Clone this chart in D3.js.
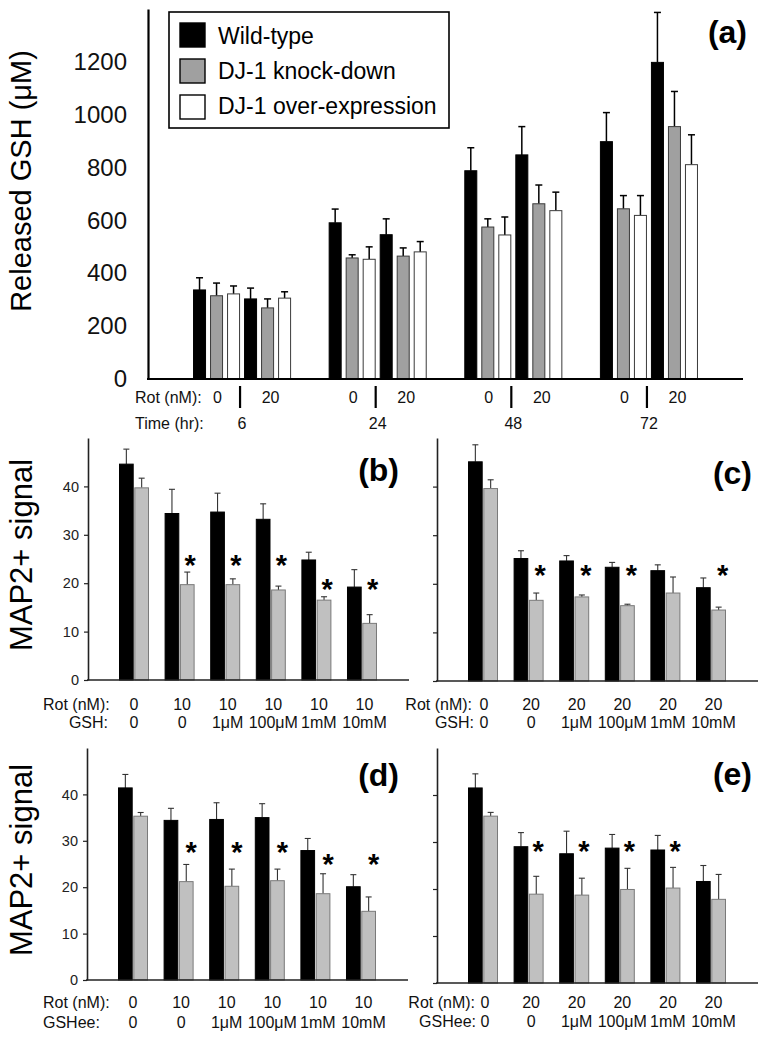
<!DOCTYPE html>
<html>
<head>
<meta charset="utf-8">
<script src="https://cdn.jsdelivr.net/npm/d3@7"></script>
<style>
  html, body { margin: 0; padding: 0; background: #fff; }
  svg { display: block; font-family: "Liberation Sans", Arial, Helvetica, sans-serif; }
</style>
</head>
<body>
<svg id="chart" width="767" height="1040"></svg>
<script>
// ---------------- DATA ----------------
// Panel (a): released GSH, order per series: [6h rot0, 6h rot20, 24h rot0, 24h rot20, 48h rot0, 48h rot20, 72h rot0, 72h rot20]
const timeLabels = ["6", "24", "48", "72"];
const rotLabelsA = ["0", "20"];
const seriesNamesA = ["Wild-type", "DJ-1 knock-down", "DJ-1 over-expression"];
const aWildType    = [337, 303, 591, 546, 788, 848, 898, 1198];
const aWildTypeErr = [46, 41, 52, 60, 87, 107, 110, 189];
const aKnockDown    = [315, 269, 458, 465, 575, 663, 644, 955];
const aKnockDownErr = [48, 34, 12, 31, 31, 71, 50, 133];
const aOverExpr    = [322, 306, 453, 481, 545, 637, 619, 811];
const aOverExprErr = [30, 24, 47, 39, 68, 70, 75, 113];
const aTicks = [0, 200, 400, 600, 800, 1000, 1200];

// Panels (b)-(e): MAP2+ signal
const mapTicks = [0, 10, 20, 30, 40];
const concLabels = ["0", "0", "1μM", "100μM", "1mM", "10mM"];
const rotB = ["0", "10", "10", "10", "10", "10"];
const rotC = ["0", "20", "20", "20", "20", "20"];

const bWT    = [44.6, 34.4, 34.7, 33.2, 24.8, 19.2];
const bWTErr = [3.1, 5.0, 3.9, 3.2, 1.6, 3.6];
const bKD    = [39.7, 19.7, 19.7, 18.6, 16.5, 11.7];
const bKDErr = [2.0, 2.6, 1.2, 0.8, 0.7, 1.8];
const bStars = [null, 25, 25, 25, 20, 20];

const cWT    = [45.1, 25.2, 24.7, 23.4, 22.7, 19.2];
const cWTErr = [3.5, 1.6, 1.1, 1.0, 1.2, 2.0];
const cKD    = [39.6, 16.6, 17.3, 15.5, 18.1, 14.6];
const cKDErr = [1.8, 1.5, 0.4, 0.3, 3.3, 0.6];
const cStars = [null, 23, 23, 23, null, 23];

const dWT    = [41.4, 34.4, 34.6, 35.0, 27.9, 20.1];
const dWTErr = [2.9, 2.6, 3.6, 3.0, 2.6, 2.6];
const dKD    = [35.3, 21.2, 20.2, 21.4, 18.6, 14.8];
const dKDErr = [0.8, 3.7, 3.7, 2.5, 4.3, 3.1];
const dStars = [null, 28.8, 28.8, 28.8, 26.2, 26.2];

const eWT    = [41.5, 29.0, 27.5, 28.7, 28.3, 21.6];
const eWTErr = [3.0, 3.0, 4.8, 2.9, 3.1, 3.4];
const eKD    = [35.5, 18.9, 18.7, 19.9, 20.2, 17.8];
const eKDErr = [0.8, 3.8, 3.6, 4.5, 4.4, 5.3];
const eStars = [null, 29.4, 29.4, 29.4, 29.4, null];

// ---------------- DRAW ----------------
const svg = d3.select("#chart");
const FONT = '"Liberation Sans", Arial, Helvetica, sans-serif';
const LABEL_SIZE = 16;

// ===== Panel (a) =====
(function () {
  const axisX = 148, endX = 743, y0 = 379, yTop = 9;
  const g = svg.append("g");
  const y = d3.scaleLinear().domain([0, 1400]).range([y0, yTop]);
  const xGroup = d3.scaleBand().domain(timeLabels).range([axisX, endX])
    .paddingInner(0.277).paddingOuter(0.332);
  const xBar = d3.scaleBand().domain(d3.range(6)).range([0, xGroup.bandwidth()])
    .paddingInner(0.235).paddingOuter(0);

  const series = [
    { vals: aWildType, errs: aWildTypeErr, fill: "#000", stroke: "#000" },
    { vals: aKnockDown, errs: aKnockDownErr, fill: "#a0a0a0", stroke: "#3a3a3a" },
    { vals: aOverExpr, errs: aOverExprErr, fill: "#fff", stroke: "#3a3a3a" }
  ];
  const bars = [];
  timeLabels.forEach((t, ti) => {
    rotLabelsA.forEach((r, ri) => {
      series.forEach((s, si) => {
        const idx = ti * 2 + ri;
        bars.push({ t, slot: ri * 3 + si, v: s.vals[idx], e: s.errs[idx], fill: s.fill, stroke: s.stroke });
      });
    });
  });

  // error bars
  const eb = g.append("g");
  bars.forEach(b => {
    const cx = xGroup(b.t) + xBar(b.slot) + xBar.bandwidth() / 2;
    eb.append("line").attr("x1", cx).attr("x2", cx)
      .attr("y1", y(b.v)).attr("y2", y(b.v + b.e)).attr("stroke", "#000").attr("stroke-width", 1.5);
    eb.append("line").attr("x1", cx - 3.5).attr("x2", cx + 3.5)
      .attr("y1", y(b.v + b.e)).attr("y2", y(b.v + b.e)).attr("stroke", "#000").attr("stroke-width", 1.5);
  });
  g.append("g").selectAll("rect").data(bars).join("rect")
    .attr("x", d => xGroup(d.t) + xBar(d.slot) + 0.5)
    .attr("width", xBar.bandwidth() - 1)
    .attr("y", d => y(d.v))
    .attr("height", d => y0 - y(d.v))
    .attr("fill", d => d.fill)
    .attr("stroke", d => d.stroke)
    .attr("stroke-width", 1);

  // y axis
  const ax = g.append("g").attr("transform", `translate(${axisX},0)`)
    .call(d3.axisLeft(y).tickValues(aTicks).tickFormat(d3.format("d"))
      .tickSize(0).tickSizeOuter(0).tickPadding(21));
  ax.select(".domain").attr("stroke", "#000").attr("stroke-width", 2.2);
  ax.selectAll("text").attr("font-size", 24).attr("font-family", FONT).attr("fill", "#111");
  // x baseline
  g.append("line").attr("x1", axisX - 1).attr("x2", endX).attr("y1", y0).attr("y2", y0)
    .attr("stroke", "#000").attr("stroke-width", 2.2);

  // x labels
  const lab = g.append("g").attr("font-size", LABEL_SIZE).attr("font-family", FONT).attr("fill", "#111");
  lab.append("text").attr("x", 135).attr("y", 403).text("Rot (nM):");
  lab.append("text").attr("x", 135).attr("y", 429).text("Time (hr):");
  timeLabels.forEach(t => {
    const gx = xGroup(t);
    const mid0 = gx + (xBar(0) + xBar(2) + xBar.bandwidth()) / 2;
    const mid1 = gx + (xBar(3) + xBar(5) + xBar.bandwidth()) / 2;
    const sep = gx + (xBar(2) + xBar.bandwidth() + xBar(3)) / 2;
    lab.append("text").attr("x", mid0 + 1).attr("y", 403).attr("text-anchor", "middle").text(rotLabelsA[0]);
    lab.append("text").attr("x", mid1 + 3).attr("y", 403).attr("text-anchor", "middle").text(rotLabelsA[1]);
    g.append("line").attr("x1", sep - 2).attr("x2", sep - 2).attr("y1", 386).attr("y2", 408)
      .attr("stroke", "#000").attr("stroke-width", 2.2);
    lab.append("text").attr("x", gx + xGroup.bandwidth() / 2).attr("y", 429)
      .attr("text-anchor", "middle").text(t);
  });

  // y label
  g.append("text").attr("transform", "translate(31,181) rotate(-90)")
    .attr("text-anchor", "middle").attr("font-size", 29).attr("font-family", FONT)
    .attr("fill", "#000").text("Released GSH (μM)");

  // legend
  const lg = g.append("g");
  lg.append("rect").attr("x", 169).attr("y", 12).attr("width", 280).attr("height", 116)
    .attr("fill", "#fff").attr("stroke", "#000").attr("stroke-width", 1.6);
  seriesNamesA.forEach((name, i) => {
    lg.append("rect").attr("x", 180).attr("y", 23 + i * 36).attr("width", 25).attr("height", 24)
      .attr("fill", series[i].fill).attr("stroke", "#000").attr("stroke-width", 1.4);
    lg.append("text").attr("x", 218).attr("y", 44 + i * 35).attr("font-size", 23)
      .attr("font-family", FONT).attr("fill", "#000").text(name);
  });

  g.append("text").attr("x", 747).attr("y", 43).attr("text-anchor", "end")
    .attr("font-size", 32).attr("font-weight", "bold").attr("font-family", FONT).text("(a)");
})();

// ===== Panels (b)-(e) =====
function mapPanel(cfg) {
  const g = svg.append("g");
  const y = d3.scaleLinear().domain([0, 50]).range([cfg.y0, cfg.yTop]);
  const x = d3.scaleBand().domain(d3.range(6)).range([cfg.axisX, cfg.axisX + 320])
    .paddingInner(0.342).paddingOuter(0.68);
  const xi = d3.scaleBand().domain(["wt", "kd"]).range([0, x.bandwidth()]).paddingInner(0.04);

  const bars = [];
  cfg.wt.forEach((v, i) => {
    bars.push({ i, k: "wt", v, e: cfg.wtErr[i], fill: "#000", stroke: "#000" });
    bars.push({ i, k: "kd", v: cfg.kd[i], e: cfg.kdErr[i], fill: "#c0c0c0", stroke: "#7a7a7a" });
  });
  bars.forEach(b => {
    const cx = x(b.i) + xi(b.k) + xi.bandwidth() / 2;
    g.append("line").attr("x1", cx).attr("x2", cx).attr("y1", y(b.v)).attr("y2", y(b.v + b.e))
      .attr("stroke", "#333").attr("stroke-width", 1.1);
    g.append("line").attr("x1", cx - 3).attr("x2", cx + 3).attr("y1", y(b.v + b.e)).attr("y2", y(b.v + b.e))
      .attr("stroke", "#333").attr("stroke-width", 1.1);
  });
  g.append("g").selectAll("rect").data(bars).join("rect")
    .attr("x", d => x(d.i) + xi(d.k) + 0.5)
    .attr("width", xi.bandwidth() - 1)
    .attr("y", d => y(d.v))
    .attr("height", d => cfg.y0 - y(d.v))
    .attr("fill", d => d.fill).attr("stroke", d => d.stroke).attr("stroke-width", 1);

  // stars
  cfg.stars.forEach((s, i) => {
    if (s == null) return;
    g.append("text").attr("x", x(i) + xi("kd") + xi.bandwidth() / 2 + cfg.starDx)
      .attr("y", y(s) + 16).attr("text-anchor", "middle")
      .attr("font-size", 29).attr("font-weight", "bold").attr("font-family", FONT).text("*");
  });

  const ax = g.append("g").attr("transform", `translate(${cfg.axisX},0)`)
    .call(d3.axisLeft(y).tickValues(mapTicks).tickSize(4).tickSizeOuter(0).tickPadding(5));
  ax.select(".domain").attr("stroke", "#222").attr("stroke-width", 1.6);
  ax.selectAll(".tick line").attr("stroke", "#222").attr("stroke-width", 1.2);
  ax.selectAll("text").attr("font-size", 14.5).attr("font-family", FONT).attr("fill", "#222")
    .style("display", cfg.showTickLabels ? null : "none");
  g.append("line").attr("x1", cfg.axisX - 1).attr("x2", cfg.axisX + 321).attr("y1", cfg.y0).attr("y2", cfg.y0)
    .attr("stroke", "#222").attr("stroke-width", 1.6);

  // x labels
  const lab = g.append("g").attr("font-size", LABEL_SIZE).attr("font-family", FONT).attr("fill", "#111");
  lab.append("text").attr("x", cfg.rotLabX).attr("y", cfg.rotY).attr("text-anchor", cfg.rotAnchor).text("Rot (nM):");
  lab.append("text").attr("x", cfg.concLabX).attr("y", cfg.concY).attr("text-anchor", cfg.concAnchor).text(cfg.concName);
  cfg.rot.forEach((r, i) => {
    const cx = x(i) + x.bandwidth() / 2 + (i === 0 ? cfg.firstDx : 2.5);
    lab.append("text").attr("x", cx).attr("y", cfg.rotY).attr("text-anchor", "middle").text(r);
    lab.append("text").attr("x", cx).attr("y", cfg.concY).attr("text-anchor", "middle").text(concLabels[i]);
  });

  if (cfg.ylabel) {
    g.append("text").attr("transform", `translate(32,${cfg.ylabelY}) rotate(-90)`)
      .attr("text-anchor", "middle").attr("font-size", 31).attr("font-family", FONT).text("MAP2+ signal");
  }
  g.append("text").attr("x", cfg.letterX).attr("y", cfg.letterY).attr("text-anchor", "end")
    .attr("font-size", 32).attr("font-weight", "bold").attr("font-family", FONT).text(cfg.letter);
}

mapPanel({ axisX: 88, y0: 680, yTop: 438, wt: bWT, wtErr: bWTErr, kd: bKD, kdErr: bKDErr,
  stars: bStars, starDx: 3, rot: rotB, concName: "GSH:", showTickLabels: true, firstDx: 0,
  rotLabX: 43, rotAnchor: "start", concLabX: 108, concAnchor: "end", rotY: 710, concY: 728,
  ylabel: true, ylabelY: 555, letter: "(b)", letterX: 399, letterY: 481 });
mapPanel({ axisX: 437, y0: 681, yTop: 438, wt: cWT, wtErr: cWTErr, kd: cKD, kdErr: cKDErr,
  stars: cStars, starDx: 4, rot: rotC, concName: "GSH:", showTickLabels: false, firstDx: 1,
  rotLabX: 472, rotAnchor: "end", concLabX: 474, concAnchor: "end", rotY: 710, concY: 728,
  ylabel: false, letter: "(c)", letterX: 752, letterY: 484 });
mapPanel({ axisX: 87, y0: 980, yTop: 748, wt: dWT, wtErr: dWTErr, kd: dKD, kdErr: dKDErr,
  stars: dStars, starDx: 5, rot: rotB, concName: "GSHee:", showTickLabels: true, firstDx: 0,
  rotLabX: 43, rotAnchor: "start", concLabX: 43, concAnchor: "start", rotY: 1008, concY: 1028,
  ylabel: true, ylabelY: 860, letter: "(d)", letterX: 399, letterY: 786 });
mapPanel({ axisX: 437, y0: 983, yTop: 748, wt: eWT, wtErr: eWTErr, kd: eKD, kdErr: eKDErr,
  stars: eStars, starDx: 2, rot: rotC, concName: "GSHee:", showTickLabels: false, firstDx: 2,
  rotLabX: 475, rotAnchor: "end", concLabX: 476, concAnchor: "end", rotY: 1008, concY: 1027,
  ylabel: false, letter: "(e)", letterX: 752, letterY: 785 });
</script>
</body>
</html>
